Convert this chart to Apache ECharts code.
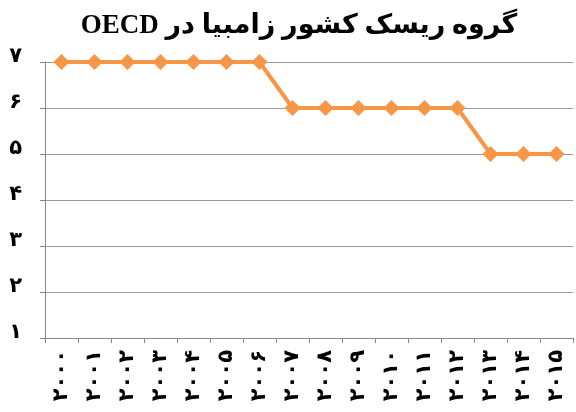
<!DOCTYPE html>
<html>
<head>
<meta charset="utf-8">
<script src="https://cdn.jsdelivr.net/npm/echarts@6/dist/echarts.min.js"></script>
<style>
  html, body { margin: 0; padding: 0; background: #fff; }
  #chart { width: 576px; height: 412px; }
</style>
</head>
<body>
<div id="chart"></div>
<script>
const years = ['۲۰۰۰', '۲۰۰۱', '۲۰۰۲', '۲۰۰۳', '۲۰۰۴', '۲۰۰۵', '۲۰۰۶', '۲۰۰۷',
  '۲۰۰۸', '۲۰۰۹', '۲۰۱۰', '۲۰۱۱', '۲۰۱۲', '۲۰۱۳', '۲۰۱۴', '۲۰۱۵']
const riskGroup = [7, 7, 7, 7, 7, 7, 7, 6, 6, 6, 6, 6, 6, 5, 5, 5]
const yDigits = ['۰', '۱', '۲', '۳', '۴', '۵', '۶', '۷']

const font = "'Liberation Serif', 'DejaVu Sans', serif"
const chart = echarts.init(document.getElementById('chart'))

chart.setOption({
  animation: false,
  title: {
    // RTL embedding so "OECD" lands on the left as in the original
    text: '\u202Bگروه ریسک کشور زامبیا در OECD\u202C',
    left: 294,
    textAlign: 'center',
    top: 8,
    textStyle: { fontFamily: font, fontSize: 27, fontWeight: 'bold', color: '#000' }
  },
  grid: { left: 45, right: 3, top: 62, bottom: 74 },
  xAxis: {
    type: 'category',
    data: years,
    boundaryGap: true,
    axisLine: { lineStyle: { color: '#888', width: 1 } },
    axisTick: { show: true, length: 5, lineStyle: { color: '#888' } },
    axisLabel: {
      rotate: 90,
      interval: 0,
      margin: 12,
      color: '#000',
      fontFamily: font,
      fontSize: 21,
      fontWeight: 'bold'
    }
  },
  yAxis: {
    type: 'value',
    min: 1,
    max: 7,
    interval: 1,
    axisLine: { show: true, lineStyle: { color: '#888', width: 1 } },
    axisTick: { show: true, length: 5, lineStyle: { color: '#888' } },
    splitLine: { lineStyle: { color: '#999', width: 1 } },
    axisLabel: {
      margin: 23,
      color: '#000',
      fontFamily: font,
      fontSize: 21,
      fontWeight: 'bold',
      verticalAlign: 'bottom',
      lineHeight: 10,
      formatter: (v) => yDigits[v]
    }
  },
  series: [
    {
      type: 'line',
      data: riskGroup,
      symbol: 'diamond',
      symbolSize: 16,
      lineStyle: { color: '#F79646', width: 4 },
      itemStyle: { color: '#F79646' }
    }
  ]
})
</script>
</body>
</html>
